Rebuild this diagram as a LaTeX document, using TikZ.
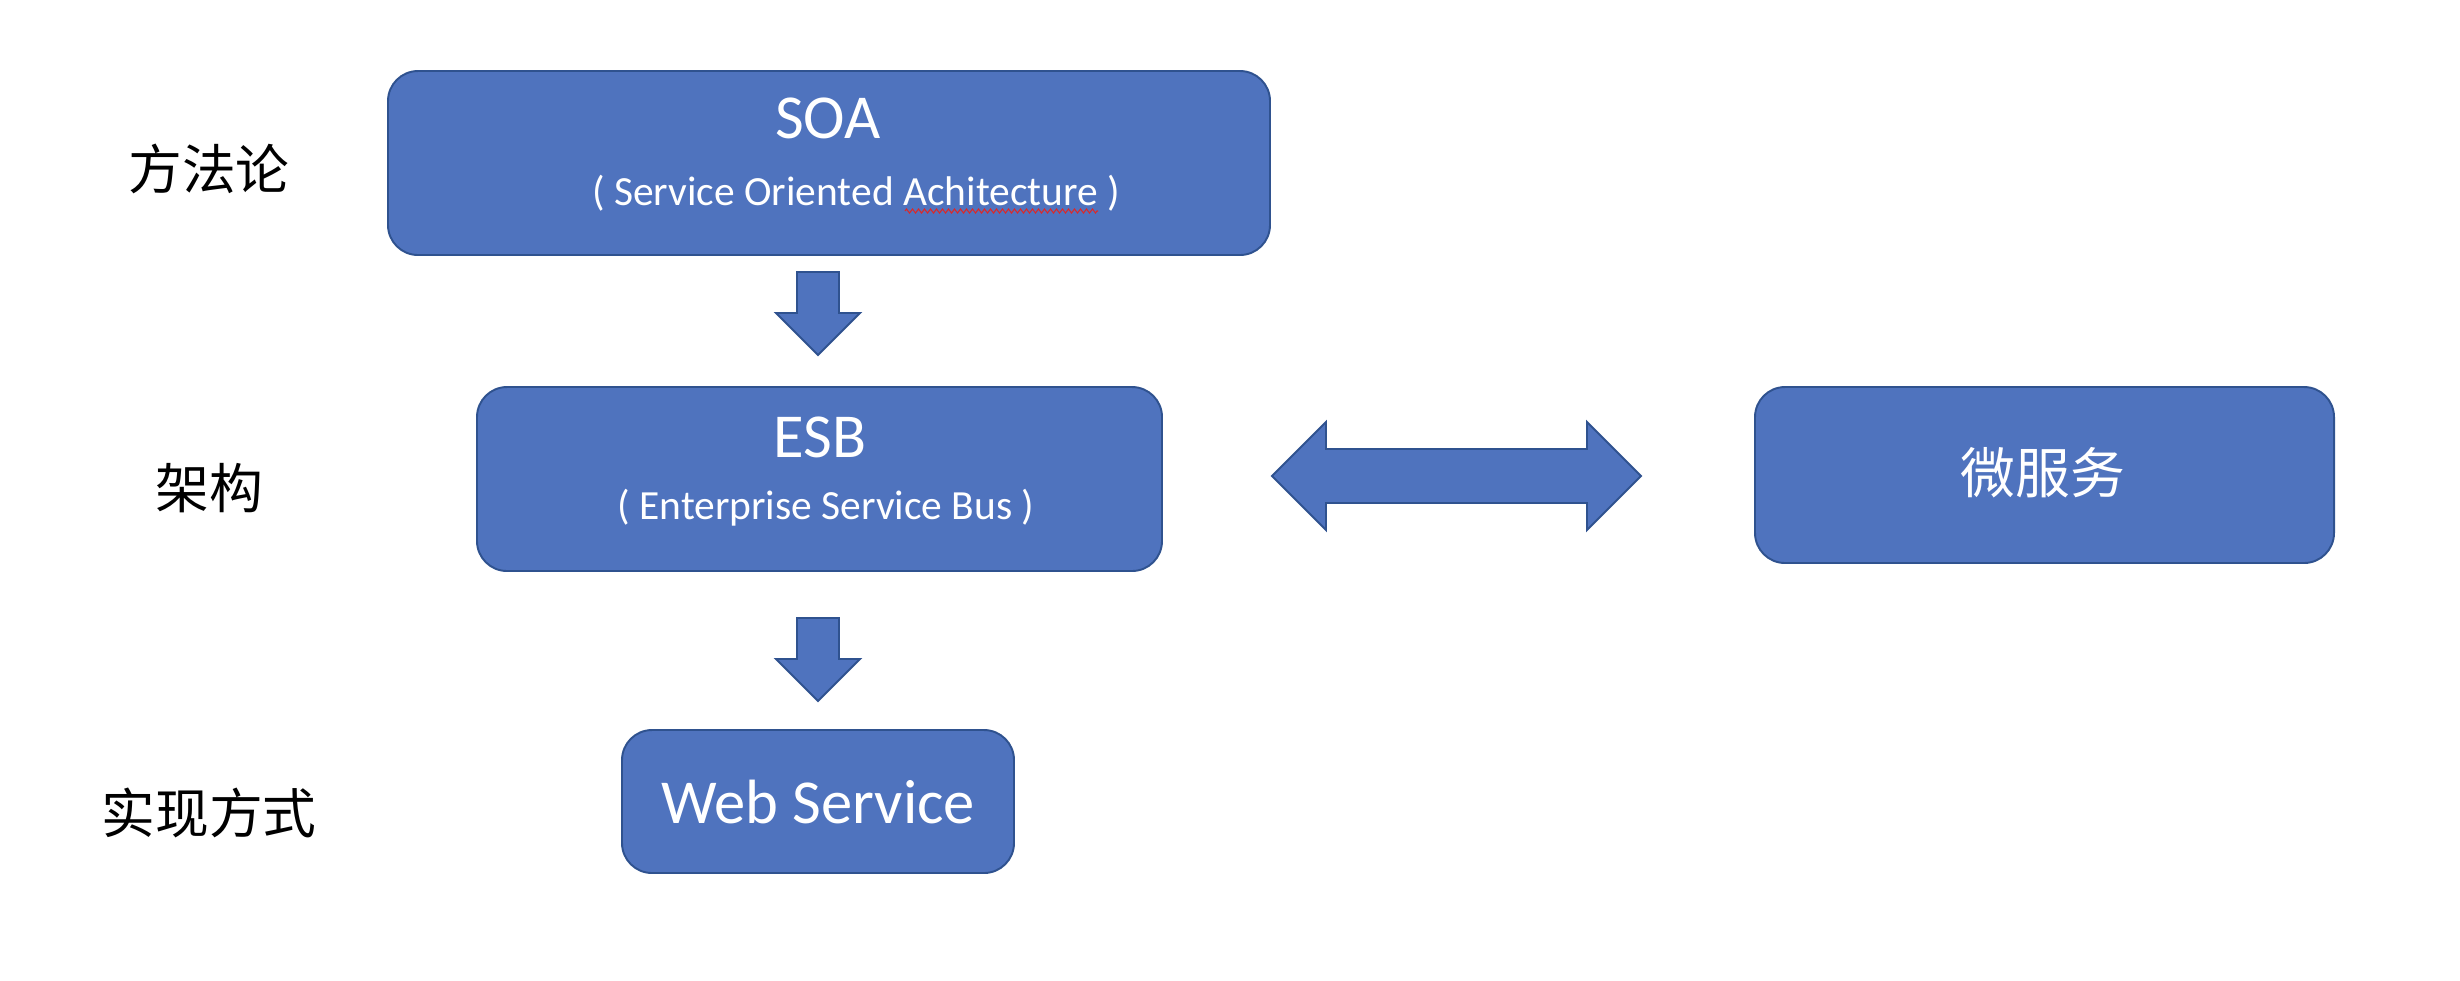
\documentclass[tikz,border=0pt]{standalone}
\usepackage{fontspec}
\setmainfont{Carlito}
\newfontfamily\cjk{Noto Sans CJK SC}
\usetikzlibrary{decorations.pathmorphing}

\definecolor{boxblue}{RGB}{79,115,190}
\definecolor{boxline}{RGB}{47,82,143}
\definecolor{spellred}{RGB}{220,40,40}

\tikzset{
  box/.style={draw=boxline, fill=boxblue, line width=0.55pt, rounded corners=0.3cm, inner sep=0pt},
  blockarrow/.style={draw=boxline, fill=boxblue, line width=0.55pt, line join=miter},
  title/.style={text=white, inner sep=0pt, font=\fontsize{17.8pt}{20pt}\selectfont},
  subtitle/.style={text=white, inner sep=0pt, font=\fontsize{11.8pt}{14pt}\selectfont},
  level/.style={text=black, inner sep=0pt, font=\cjk\fontsize{15.3pt}{18pt}\selectfont}
}

\begin{document}
\begin{tikzpicture}
  \useasboundingbox (0,0) rectangle (24.6,-9.8);

  % levels on the left
  \node[level] (method) at (2.09,-1.69) {方法论};
  \node[level] (arch)   at (2.09,-4.88) {架构};
  \node[level] (impl)   at (2.09,-8.13) {实现方式};

  % boxes
  \node[box, minimum width=8.82cm, minimum height=1.84cm] (soa) at (8.29,-1.63) {};
  \node[title]    (soatitle) at (8.28,-1.18) {SOA};
  \node[subtitle] (soasub)   at (8.56,-1.93) {( Service Oriented Achitecture )};
  \draw[spellred, line width=0.3pt, decorate, decoration={zigzag, amplitude=0.02cm, segment length=0.06cm}]
    (9.05,-2.11) -- (10.98,-2.11);

  \node[box, minimum width=6.85cm, minimum height=1.84cm] (esb) at (8.195,-4.79) {};
  \node[title]    (esbtitle) at (8.20,-4.37) {ESB};
  \node[subtitle] (esbsub)   at (8.26,-5.08) {( Enterprise Service Bus )};

  \node[box, minimum width=3.92cm, minimum height=1.43cm, title] (ws) at (8.18,-8.015) {Web Service};

  \node[box, minimum width=5.79cm, minimum height=1.76cm] (micro) at (20.445,-4.75) {};
  \node[level, text=white, font=\cjk\fontsize{15.6pt}{18pt}\selectfont] (microtext) at (20.43,-4.73) {微服务};

  % block arrows
  \foreach \dy in {0,-3.46}{
    \draw[blockarrow, yshift=\dy cm] (7.97,-2.72) -- (8.39,-2.72) -- (8.39,-3.13) -- (8.60,-3.13)
      -- (8.18,-3.55) -- (7.76,-3.13) -- (7.97,-3.13) -- cycle;
  }
  \draw[blockarrow] (12.72,-4.76) -- (13.26,-4.22) -- (13.26,-4.49) -- (15.87,-4.49) -- (15.87,-4.22)
    -- (16.41,-4.76) -- (15.87,-5.30) -- (15.87,-5.03) -- (13.26,-5.03) -- (13.26,-5.30) -- cycle;

\end{tikzpicture}
\end{document}
